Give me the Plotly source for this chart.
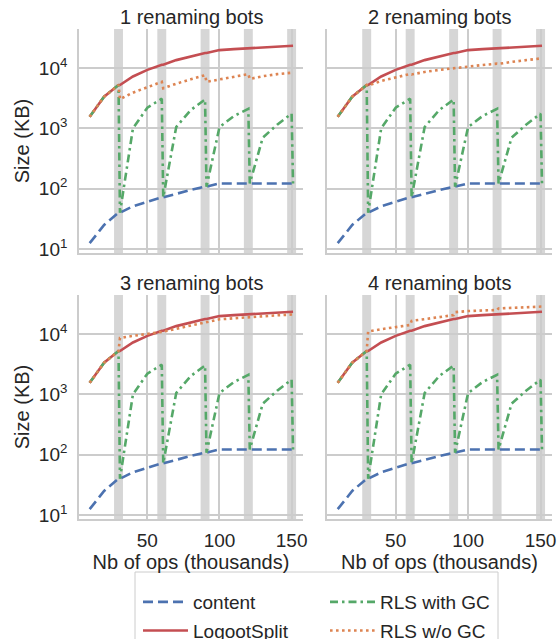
import plotly.graph_objects as go

W, H = 559, 639


def px(xp):
    return xp / W


def py(yp):
    return 1 - yp / H


# ---------------- data ----------------
ops = [10, 20, 30, 31, 40, 50, 60, 61, 70, 80, 90, 91, 100, 110, 120, 121, 130, 140, 150, 151]

content = [12.5, 25, 40, 40, 51, 61, 72, 72, 83, 95, 108, 108,
           122, 122, 122, 122, 122, 122, 122, 122]

logootsplit = [1550, 3340, 5230, 5230, 7240, 9300, 11300, 11300, 13500, 15600, 17700, 17700,
               19800, 20500, 21200, 21200, 21900, 22600, 23300, 23300]

rls_gc = [1550, 3340, 5230, 40, 1000, 2200, 3100, 72, 1050, 2000, 3000, 108,
          1050, 1600, 2100, 122, 700, 1150, 1750, 122]

rls_nogc_1 = [1550, 3340, 5230, 3050, 3900, 4800, 5900, 4600, 5500, 6500, 7600, 5900,
              6500, 7200, 7900, 6600, 7300, 7900, 8400, 8400]
rls_nogc_2 = [1550, 3340, 5230, 5100, 6100, 7000, 7950, 7800, 8600, 9300, 9950, 9800,
              10600, 11200, 11800, 11700, 12600, 13500, 14500, 14500]
rls_nogc_3 = [1550, 3340, 5230, 8600, 9300, 10000, 10800, 10900, 12200, 13800, 15800, 16000,
              17500, 18200, 19000, 19200, 19800, 20400, 21000, 21000]
rls_nogc_4 = [1550, 3340, 5230, 11000, 12000, 13000, 14100, 16500, 17500, 19000, 20600, 23000,
              24000, 24500, 25000, 26500, 27000, 27800, 28500, 28500]

rls_nogc = [rls_nogc_1, rls_nogc_2, rls_nogc_3, rls_nogc_4]
renamings = [30, 60, 90, 120, 150]
panel_titles = ["1 renaming bots", "2 renaming bots", "3 renaming bots", "4 renaming bots"]
y_tickvals = [10, 100, 1000, 10000]
y_ticktext = ["10<sup>1</sup>", "10<sup>2</sup>", "10<sup>3</sup>", "10<sup>4</sup>"]
x_tickvals = [50, 100, 150]

# ---------------- styling ----------------
FONT = "Liberation Sans, Arial, sans-serif"
TXT = "#262626"
GRID = "#cccccc"
BLUE, RED, GREEN, ORANGE = "#4c72b0", "#c44e52", "#55a868", "#dd8452"
LW = 2.6

xdom = [[px(79), px(303)], [px(327), px(552)]]
ydom = [[py(253), py(29)], [py(519), py(295)]]

fig = go.Figure()

# name, colour, dash, legend id
series_spec = [
    ("content", BLUE, "10px,5px", "legend"),
    ("LogootSplit", RED, "solid", "legend"),
    ("RLS with GC", GREEN, "8px,4px,2.5px,4px", "legend2"),
    ("RLS w/o GC", ORANGE, "2.6px,3.4px", "legend2"),
]

leg_common = dict(
    orientation="v", xanchor="left", yanchor="top",
    bgcolor="rgba(0,0,0,0)", borderwidth=0,
    font=dict(size=19, color=TXT, family=FONT),
    itemwidth=45, tracegroupgap=1, traceorder="grouped",
)

layout = dict(
    width=W, height=H,
    margin=dict(l=0, r=0, t=0, b=0, autoexpand=False),
    paper_bgcolor="white", plot_bgcolor="white",
    font=dict(family=FONT, color=TXT, size=19),
    showlegend=True,
    legend=dict(x=px(138), y=py(583), **leg_common),
    legend2=dict(x=px(325), y=py(583), **leg_common),
)

shapes = []
annotations = []
for p in range(4):
    r, c = divmod(p, 2)
    idx = "" if p == 0 else str(p + 1)
    xa, ya = "x" + idx, "y" + idx
    values = [content, logootsplit, rls_gc, rls_nogc[p]]
    for (name, color, dash, leg), vals in zip(series_spec, values):
        fig.add_trace(go.Scatter(
            x=ops, y=vals, mode="lines", name=name,
            line=dict(color=color, width=LW, dash=dash),
            xaxis=xa, yaxis=ya, showlegend=(p == 0),
            legend=leg, legendgroup=name,
            hoverinfo="skip",
        ))
    layout["xaxis" + idx] = dict(
        domain=xdom[c], anchor=ya, range=[2.6, 157.9],
        tickvals=x_tickvals, showticklabels=(r == 1),
        showgrid=True, gridcolor=GRID, gridwidth=1.6,
        showline=True, linecolor=GRID, linewidth=1.6, zeroline=False,
        ticks="", ticklabelstandoff=3,
        tickfont=dict(size=19, color=TXT),
        title=dict(text="Nb of ops (thousands)" if r == 1 else "",
                   font=dict(size=20, color=TXT), standoff=4),
    )
    layout["yaxis" + idx] = dict(
        domain=ydom[r], anchor=xa, type="log", range=[0.934, 4.646],
        tickvals=y_tickvals, ticktext=y_ticktext, showticklabels=(c == 0),
        showgrid=True, gridcolor=GRID, gridwidth=1.6,
        showline=True, linecolor=GRID, linewidth=1.6, zeroline=False,
        ticks="", ticklabelstandoff=6,
        tickfont=dict(size=19, color=TXT),
        title=dict(text="Size (KB)" if c == 0 else "",
                   font=dict(size=20, color=TXT), standoff=4),
    )
    for rn in renamings:
        shapes.append(dict(
            type="rect", xref=xa, yref=ya + " domain",
            x0=rn - 3.1, x1=rn + 3.1, y0=0, y1=1,
            fillcolor="rgba(0,0,0,0.16)", line=dict(width=0), layer="below",
        ))
    annotations.append(dict(
        text=panel_titles[p], xref="paper", yref="paper",
        x=sum(xdom[c]) / 2, y=ydom[r][1] + 12 / H,
        xanchor="center", yanchor="middle", showarrow=False,
        font=dict(size=20, color=TXT, family=FONT),
    ))

# legend frame (spans both legend columns, runs past the bottom edge like the reference)
shapes.append(dict(
    type="rect", xref="paper", yref="paper",
    x0=px(135), x1=px(498), y0=py(700), y1=py(572),
    fillcolor="white", line=dict(color=GRID, width=1), layer="below",
))

layout["shapes"] = shapes
layout["annotations"] = annotations
fig.update_layout(**layout)
fig.write_html(
    "out.html",
    config={"displayModeBar": False},
    post_script="document.body.style.margin='0';document.body.style.overflow='hidden';",
)
